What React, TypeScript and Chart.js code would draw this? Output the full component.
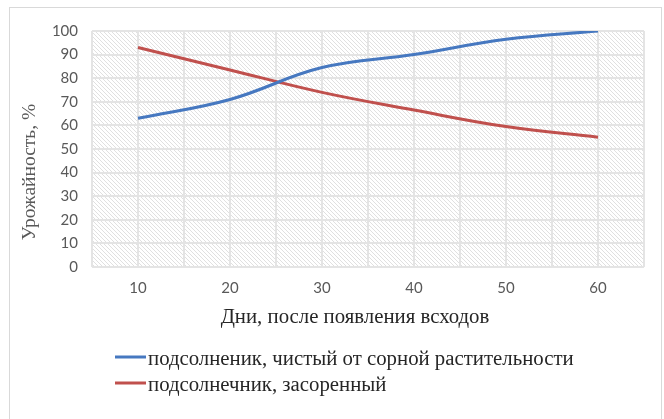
import React, { useEffect, useRef } from "react";
import { Chart, registerables } from "chart.js";

Chart.register(...registerables);

const days = [10, 20, 30, 40, 50, 60];
const cleanYield = [63, 71, 84.5, 90, 96.5, 100];
const weedyYield = [93, 83.5, 74, 66.5, 59.5, 55];
const seriesLabels = [
  "подсолненик, чистый от сорной растительности",
  "подсолнечник, засоренный",
];
const seriesColors = ["#4678c0", "#c0504d"];
const xTitle = "Дни, после появления всходов";
const yTitle = "Урожайность, %";

const TICK_FONT = "Lato, 'Open Sans', sans-serif";
const SERIF = "'Liberation Serif', 'DejaVu Serif', serif";

function makePattern(ctx: CanvasRenderingContext2D) {
  const c = document.createElement("canvas");
  c.width = 4;
  c.height = 4;
  const p = c.getContext("2d")!;
  p.fillStyle = "#ffffff";
  p.fillRect(0, 0, 4, 4);
  p.fillStyle = "#e0e0e0";
  for (let i = 0; i < 4; i++) p.fillRect(i, i, 1, 1);
  return ctx.createPattern(c, "repeat");
}

const decorPlugin = {
  id: "decor",
  beforeDraw(chart: any) {
    const { ctx, chartArea } = chart;
    ctx.save();
    const pat = makePattern(ctx);
    if (pat) ctx.fillStyle = pat;
    ctx.fillRect(
      chartArea.left,
      chartArea.top,
      chartArea.right - chartArea.left,
      chartArea.bottom - chartArea.top
    );
    ctx.restore();
  },
  afterDraw(chart: any) {
    const { ctx } = chart;
    ctx.save();
    // y title
    ctx.fillStyle = "#595959";
    ctx.font = `19.5px ${SERIF}`;
    ctx.textAlign = "center";
    ctx.textBaseline = "alphabetic";
    ctx.translate(35, 172);
    ctx.rotate(-Math.PI / 2);
    ctx.fillText(yTitle, 0, 0);
    ctx.restore();

    ctx.save();
    ctx.fillStyle = "#262626";
    ctx.font = `20.8px ${SERIF}`;
    ctx.textAlign = "center";
    ctx.textBaseline = "alphabetic";
    ctx.fillText(xTitle, 355, 323);

    // legend
    ctx.textAlign = "left";
    const ys = [357, 383];
    chart.data.datasets.forEach((ds: any, i: number) => {
      ctx.strokeStyle = ds.borderColor;
      ctx.lineWidth = 3;
      ctx.beginPath();
      ctx.moveTo(115, ys[i]);
      ctx.lineTo(146, ys[i]);
      ctx.stroke();
      ctx.fillStyle = "#262626";
      ctx.fillText(ds.label, 148, ys[i] + 8);
    });
    ctx.restore();
  },
};

export default function App() {
  const ref = useRef<HTMLCanvasElement>(null);
  useEffect(() => {
    const chart = new Chart(ref.current!, {
      type: "scatter",
      data: {
        datasets: seriesLabels.map((label, i) => ({
          label,
          data: days.map((d, j) => ({ x: d, y: (i === 0 ? cleanYield : weedyYield)[j] })),
          showLine: true,
          borderColor: seriesColors[i],
          backgroundColor: seriesColors[i],
          borderWidth: 3,
          pointRadius: 0,
          tension: 0.4,
        })),
      },
      options: {
        animation: false,
        responsive: false,
        devicePixelRatio: 1,
        layout: { padding: { top: 31, right: 20, left: 0, bottom: 0 } },
        plugins: {
          legend: { display: false },
          tooltip: { enabled: false },
        },
        scales: {
          x: {
            type: "linear",
            min: 5,
            max: 65,
            afterFit: (s: any) => {
              s.height = 152;
            },
            border: { display: false },
            grid: { color: "#e4e4e4", lineWidth: 2, drawTicks: false },
            ticks: {
              stepSize: 5,
              padding: 12,
              color: "#595959",
              font: { family: TICK_FONT, size: 15 },
              callback: (v: any) => (Number(v) % 10 === 0 ? String(v) : ""),
            },
          },
          y: {
            min: 0,
            max: 100,
            afterFit: (s: any) => {
              s.width = 92;
            },
            border: { display: false },
            grid: { color: "#e4e4e4", lineWidth: 2, drawTicks: false },
            ticks: {
              stepSize: 10,
              padding: 14,
              color: "#595959",
              font: { family: TICK_FONT, size: 15 },
            },
          },
        },
      },
      plugins: [decorPlugin],
    });
    return () => chart.destroy();
  }, []);
  return (
    <div style={{ position: "fixed", left: 0, top: 0, width: 664, height: 419, background: "#fff" }}>
      <div
        style={{
          position: "absolute",
          left: 9,
          top: 7,
          width: 653,
          height: 420,
          border: "1px solid #d9d9d9",
          boxSizing: "border-box",
        }}
      />
      <canvas
        ref={ref}
        width={664}
        height={419}
        style={{ position: "absolute", left: 0, top: 0, width: 664, height: 419 }}
      />
    </div>
  );
}
